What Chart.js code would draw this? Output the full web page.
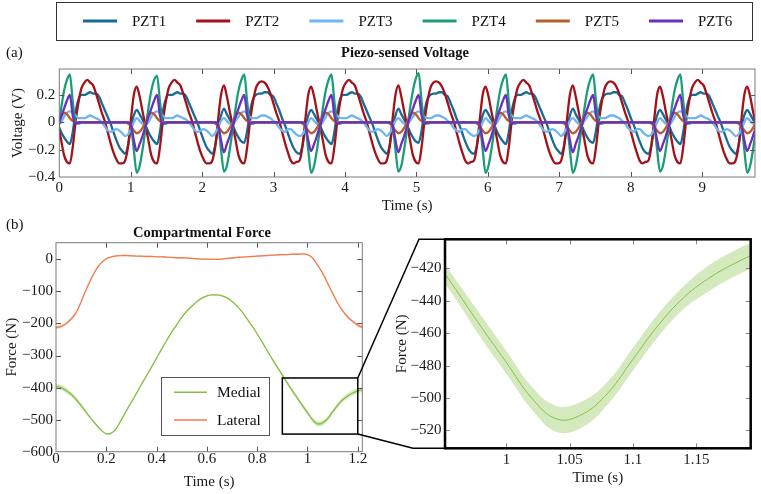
<!DOCTYPE html>
<html><head><meta charset="utf-8">
<script src="https://cdn.jsdelivr.net/npm/chart.js@4.4.1/dist/chart.umd.min.js"></script>
<style>
html,body{margin:0;padding:0;background:#fff;}
#wrap{position:relative;width:761px;height:494px;overflow:hidden;background:#fff;}
canvas{position:absolute;}
#cA{left:0;top:0;} #cB{left:0;top:200px;} #cC{left:370px;top:200px;} #cD{left:0;top:0;pointer-events:none;}
</style></head><body>
<div id="wrap">
<canvas id="cA" width="761" height="215"></canvas>
<canvas id="cB" width="380" height="294"></canvas>
<canvas id="cC" width="391" height="294"></canvas>
<canvas id="cD" width="761" height="494"></canvas>
</div>
<script>
// ---------------- data: panel (a) ----------------
const voltNames = ['PZT1','PZT2','PZT3','PZT4','PZT5','PZT6'];
const voltColors = ['#176b96','#a3121a','#70b5f2','#1b9e77','#b5602a','#6a2fbf'];
const voltStart = -0.0151;   // time of first sample (s)
const voltStep = 0.0407;     // sample spacing (s)
const voltXTicks = [0,1,2,3,4,5,6,7,8,9];
const voltYTicks = [-0.4,-0.2,0,0.2];

const pzt1 = [
 -.02,-.07,-.11,-.14,-.16,-.07,.08,.17,.2,.2,.21,.22,.21,.21,.19,.14,.09,.04,-.01,-.07,-.13,-.18,-.21,
 -.23,-.17,-.04,.05,.09,.06,.02,-.02,-.07,-.11,-.14,-.16,-.07,.08,.17,.2,.2,.21,.22,.21,.21,.19,.14,.09,.04,-.01,-.07,-.13,-.18,-.21,
 -.23,-.17,-.04,.05,.1,.06,.02,-.02,-.07,-.11,-.14,-.15,-.06,.08,.17,.2,.21,.21,.22,.22,.2,.19,.14,.09,.03,-.02,-.08,-.14,-.19,-.22,
 -.23,-.17,-.04,.05,.09,.06,.02,-.02,-.07,-.11,-.14,-.16,-.07,.08,.17,.2,.2,.21,.22,.21,.21,.19,.14,.09,.04,-.01,-.07,-.13,-.18,-.21,
 -.23,-.17,-.04,.05,.1,.06,.02,-.02,-.07,-.11,-.14,-.15,-.06,.08,.17,.2,.21,.21,.22,.22,.2,.19,.14,.09,.03,-.02,-.08,-.14,-.19,-.22,
 -.23,-.17,-.04,.05,.09,.06,.02,-.02,-.07,-.11,-.14,-.16,-.07,.08,.17,.2,.2,.21,.22,.21,.21,.19,.14,.09,.04,-.01,-.07,-.13,-.18,-.21,
 -.23,-.17,-.04,.05,.1,.06,.02,-.02,-.07,-.11,-.14,-.15,-.06,.08,.17,.2,.21,.21,.22,.22,.2,.19,.14,.09,.03,-.02,-.08,-.14,-.19,-.22,
 -.23,-.17,-.04,.05,.09,.06,.02,-.02,-.07,-.11,-.14,-.16,-.07,.08,.17,.2,.2,.21,.22,.21,.21,.19,.14,.09,.04,-.01,-.07,-.13,-.18,-.21,
 -.23,-.17,-.04,.05,.09,.06,.02,-.02
];
const pzt2 = [
 -.02,-.13,-.24,-.29,-.3,-.18,.01,.15,.25,.29,.31,.29,.27,.21,.14,.07,.01,-.07,-.15,-.22,-.27,-.3,-.3,
 -.28,-.18,.02,.2,.26,.19,.08,-.02,-.13,-.24,-.29,-.3,-.18,.01,.15,.25,.29,.31,.29,.27,.21,.14,.07,.01,-.07,-.15,-.22,-.27,-.3,-.3,
 -.28,-.18,.02,.2,.27,.19,.08,-.02,-.13,-.24,-.29,-.3,-.18,.01,.15,.25,.29,.3,.29,.26,.21,.14,.07,.01,-.07,-.15,-.22,-.28,-.3,-.29,
 -.28,-.18,.02,.2,.26,.19,.08,-.02,-.13,-.24,-.29,-.3,-.18,.01,.15,.25,.29,.31,.29,.27,.21,.14,.07,.01,-.07,-.15,-.22,-.27,-.3,-.3,
 -.28,-.18,.02,.2,.27,.19,.08,-.02,-.13,-.24,-.29,-.3,-.18,.01,.15,.25,.29,.3,.29,.26,.21,.14,.07,.01,-.07,-.15,-.22,-.28,-.3,-.29,
 -.28,-.18,.02,.2,.26,.19,.08,-.02,-.13,-.24,-.29,-.3,-.18,.01,.15,.25,.29,.31,.29,.27,.21,.14,.07,.01,-.07,-.15,-.22,-.27,-.3,-.3,
 -.28,-.18,.02,.2,.27,.19,.08,-.02,-.13,-.24,-.29,-.3,-.18,.01,.15,.25,.29,.3,.29,.26,.21,.14,.07,.01,-.07,-.15,-.22,-.28,-.3,-.29,
 -.28,-.18,.02,.2,.26,.19,.08,-.02,-.13,-.24,-.29,-.3,-.18,.01,.15,.25,.29,.31,.29,.27,.21,.14,.07,.01,-.07,-.15,-.22,-.27,-.3,-.3,
 -.28,-.18,.02,.2,.26,.19,.08,-.02
];
const pzt3 = [
 -.02,0,.04,.07,.08,.07,.05,.03,.03,.03,.04,.05,.04,.03,.02,0,-.03,-.06,-.07,-.06,-.05,-.06,-.08,
 -.1,-.09,-.05,0,.03,.01,-.01,-.02,0,.04,.07,.08,.07,.05,.03,.03,.03,.04,.05,.04,.03,.02,0,-.03,-.06,-.07,-.06,-.05,-.06,-.08,
 -.1,-.08,-.04,.01,.03,.01,-.01,-.02,.01,.04,.07,.08,.06,.04,.03,.03,.04,.05,.05,.04,.03,.01,-.01,-.04,-.06,-.07,-.05,-.05,-.07,-.09,
 -.1,-.09,-.05,0,.03,.01,-.01,-.02,0,.04,.07,.08,.07,.05,.03,.03,.03,.04,.05,.04,.03,.02,0,-.03,-.06,-.07,-.06,-.05,-.06,-.08,
 -.1,-.08,-.04,.01,.03,.01,-.01,-.02,.01,.04,.07,.08,.06,.04,.03,.03,.04,.05,.05,.04,.03,.01,-.01,-.04,-.06,-.07,-.05,-.05,-.07,-.09,
 -.1,-.09,-.05,0,.03,.01,-.01,-.02,0,.04,.07,.08,.07,.05,.03,.03,.03,.04,.05,.04,.03,.02,0,-.03,-.06,-.07,-.06,-.05,-.06,-.08,
 -.1,-.08,-.04,.01,.03,.01,-.01,-.02,.01,.04,.07,.08,.06,.04,.03,.03,.04,.05,.05,.04,.03,.01,-.01,-.04,-.06,-.07,-.05,-.05,-.07,-.09,
 -.1,-.09,-.05,0,.03,.01,-.01,-.02,0,.04,.07,.08,.07,.05,.03,.03,.03,.04,.05,.04,.03,.02,0,-.03,-.06,-.07,-.06,-.05,-.06,-.08,
 -.1,-.09,-.05,0,.03,.01,-.01,-.02
];
const pzt4 = [
 -.05,.1,.23,.31,.35,.15,0,-.01,0,0,0,0,0,0,0,0,0,0,0,0,0,0,0,
 0,0,-.02,-.2,-.37,-.32,-.2,-.05,.1,.23,.31,.34,.15,0,-.01,0,0,0,0,0,0,0,0,0,0,0,0,0,0,0,
 0,0,-.02,-.2,-.36,-.32,-.2,-.05,.1,.23,.31,.35,.15,0,-.01,0,0,0,0,0,0,0,0,0,0,0,0,0,0,0,
 0,0,-.02,-.2,-.37,-.32,-.2,-.05,.1,.23,.31,.35,.15,0,-.01,0,0,0,0,0,0,0,0,0,0,0,0,0,0,0,
 0,0,-.02,-.2,-.36,-.32,-.2,-.05,.1,.23,.32,.36,.15,0,-.01,0,0,0,0,0,0,0,0,0,0,0,0,0,0,0,
 0,0,-.02,-.2,-.37,-.32,-.2,-.05,.1,.23,.31,.35,.15,0,-.01,0,0,0,0,0,0,0,0,0,0,0,0,0,0,0,
 0,0,-.02,-.2,-.37,-.32,-.2,-.05,.1,.23,.31,.35,.15,0,-.01,0,0,0,0,0,0,0,0,0,0,0,0,0,0,0,
 0,0,-.02,-.2,-.36,-.32,-.2,-.05,.1,.23,.31,.35,.15,0,-.01,0,0,0,0,0,0,0,0,0,0,0,0,0,0,0,
 0,0,-.02,-.2,-.37,-.32,-.2,-.05
];
const pzt5 = [
 0,.04,.07,.06,.03,.01,0,0,0,0,0,0,0,0,0,0,0,0,0,0,0,0,0,
 0,-.01,-.03,-.06,-.08,-.07,-.04,0,.04,.07,.06,.03,.01,0,0,0,0,0,0,0,0,0,0,0,0,0,0,0,0,0,
 0,-.01,-.03,-.06,-.08,-.07,-.04,0,.04,.07,.06,.03,.01,0,0,0,0,0,0,0,0,0,0,0,0,0,0,0,0,0,
 0,-.01,-.03,-.06,-.08,-.07,-.04,0,.04,.07,.06,.03,.01,0,0,0,0,0,0,0,0,0,0,0,0,0,0,0,0,0,
 0,-.01,-.03,-.06,-.08,-.07,-.04,0,.04,.07,.06,.03,.01,0,0,0,0,0,0,0,0,0,0,0,0,0,0,0,0,0,
 0,-.01,-.03,-.06,-.08,-.07,-.04,0,.04,.07,.06,.03,.01,0,0,0,0,0,0,0,0,0,0,0,0,0,0,0,0,0,
 0,-.01,-.03,-.06,-.08,-.07,-.04,0,.04,.07,.06,.03,.01,0,0,0,0,0,0,0,0,0,0,0,0,0,0,0,0,0,
 0,-.01,-.03,-.06,-.08,-.07,-.04,0,.04,.07,.06,.03,.01,0,0,0,0,0,0,0,0,0,0,0,0,0,0,0,0,0,
 0,-.01,-.03,-.06,-.08,-.07,-.04,0
];
const pzt6 = [
 -.03,.04,.1,.16,.2,.05,-.01,0,0,0,0,0,0,0,0,0,0,0,0,0,0,0,0,
 0,0,-.02,-.13,-.21,-.16,-.1,-.03,.04,.1,.16,.2,.05,-.01,0,0,0,0,0,0,0,0,0,0,0,0,0,0,0,0,
 0,0,-.02,-.13,-.22,-.16,-.1,-.03,.04,.1,.16,.2,.05,-.01,0,0,0,0,0,0,0,0,0,0,0,0,0,0,0,0,
 0,0,-.02,-.13,-.21,-.16,-.1,-.03,.04,.1,.16,.2,.05,-.01,0,0,0,0,0,0,0,0,0,0,0,0,0,0,0,0,
 0,0,-.02,-.13,-.22,-.16,-.1,-.03,.04,.1,.16,.2,.05,-.01,0,0,0,0,0,0,0,0,0,0,0,0,0,0,0,0,
 0,0,-.02,-.13,-.21,-.16,-.1,-.03,.04,.1,.16,.2,.05,-.01,0,0,0,0,0,0,0,0,0,0,0,0,0,0,0,0,
 0,0,-.02,-.13,-.22,-.16,-.1,-.03,.04,.1,.16,.2,.05,-.01,0,0,0,0,0,0,0,0,0,0,0,0,0,0,0,0,
 0,0,-.02,-.13,-.21,-.16,-.1,-.03,.04,.1,.16,.2,.05,-.01,0,0,0,0,0,0,0,0,0,0,0,0,0,0,0,0,
 0,0,-.02,-.13,-.21,-.16,-.1,-.03
];

// ---------------- data: panel (b) ----------------
const forceStart = 0, forceStep = 0.02;
const medial = [
 -396,-400,-409,-421,-437,-456,-477,-497,-516,-533,
 -544,-542,-527,-500,-472,-445,-418,-390,-363,-336,
 -308,-280,-253,-227,-204,-181,-162,-146,-132,-121,
 -114,-111,-111,-114,-120,-131,-146,-164,-186,-208,
 -232,-258,-285,-311,-336,-361,-386,-410,-433,-456,
 -478,-500,-513,-510,-497,-476,-455,-438,-426,-417,
 -410,-405
];
const medialSpread = [
 8,8,8,7,7,6,5,4,3,3,
 2,2,2,2,2,2,2,2,2,2,
 2,2,2,2,2,2,2,2,2,2,
 2,2,2,2,2,2,2,2,2,2,
 2,2,3,3,4,5,5,6,6,7,
 7,7,8,8,7,7,7,7,8,8,
 8,8
];
const lateral = [
 -213,-209,-201,-186,-166,-132,-94,-60,-31,-11,
 2,8,11,12,12,11,10,10,9,9,
 8,8,7,6,5,5,4,3,2,1,
 1,0,0,1,3,4,6,7,8,9,
 10,11,12,13,14,15,15,16,16,17,
 15,5,-18,-43,-74,-106,-136,-161,-180,-194,
 -205,-212
];
const lateralSpread = [
 5,5,4,4,3,3,2,2,2,2,
 2,2,2,2,2,2,2,2,2,2,
 2,2,2,2,2,2,2,2,2,2,
 2,2,2,2,2,2,2,2,2,2,
 2,2,2,2,2,2,2,2,2,2,
 2,2,2,2,2,3,3,3,4,4,
 5,5
];
const forceNames = ['Medial','Lateral'];
const forceColors = ['#86bf45','#f47a4c'];
const forceBands = ['rgba(134,191,69,0.35)','rgba(244,122,76,0.35)'];
const forceXTicks = [0,0.2,0.4,0.6,0.8,1,1.2];
const forceYTicks = [-600,-500,-400,-300,-200,-100,0];
const zoomXTicks = [1,1.05,1.1,1.15];
const zoomYTicks = [-520,-500,-480,-460,-440,-420];
const zoomBoxX = [0.9,1.2];
const zoomBoxY = [-545,-370];

// ---------------- helpers ----------------
const FONT = "'Liberation Serif','Times New Roman',serif";
Chart.defaults.font.family = FONT;
Chart.defaults.font.size = 15;
Chart.defaults.color = '#1a1a1a';
Chart.defaults.animation = false;
const fmt = v => String(+v.toFixed(4)).replace('-', '\u2212');
const fixTicks = arr => s => { s.ticks = arr.map(v => ({value: v})); };

const frame = {
  id: 'frame',
  afterDatasetsDraw(chart, args, o) {
    const {ctx, chartArea: a, scales: {x, y}} = chart;
    ctx.save();
    ctx.lineWidth = 1; ctx.strokeStyle = o.tickColor;
    ctx.beginPath();
    for (const t of x.ticks) {
      const p = Math.round(x.getPixelForValue(t.value)) + 0.5;
      if (p < a.left + 1 || p > a.right - 1) continue;
      ctx.moveTo(p, a.bottom); ctx.lineTo(p, a.bottom - o.len);
      ctx.moveTo(p, a.top); ctx.lineTo(p, a.top + o.len);
    }
    for (const t of y.ticks) {
      const p = Math.round(y.getPixelForValue(t.value)) + 0.5;
      if (p < a.top + 1 || p > a.bottom - 1) continue;
      ctx.moveTo(a.left, p); ctx.lineTo(a.left + o.len, p);
      ctx.moveTo(a.right, p); ctx.lineTo(a.right - o.len, p);
    }
    ctx.stroke();
    ctx.lineWidth = o.width; ctx.strokeStyle = o.color;
    ctx.strokeRect(a.left, a.top, a.width, a.height);
    if (o.box) {
      const x0 = x.getPixelForValue(o.box.x[0]), x1 = x.getPixelForValue(o.box.x[1]);
      const y0 = y.getPixelForValue(o.box.y[0]), y1 = y.getPixelForValue(o.box.y[1]);
      ctx.lineWidth = 1.5; ctx.strokeStyle = '#000';
      ctx.strokeRect(x0, y1, x1 - x0, y0 - y1);
    }
    ctx.restore();
  }
};

const deco = {
  id: 'deco',
  afterDraw(chart, args, o) {
    const {ctx} = chart;
    ctx.save();
    ctx.fillStyle = '#111'; ctx.textBaseline = 'middle';
    if (o.title) {
      ctx.font = 'bold 14.5px ' + FONT; ctx.textAlign = 'center';
      ctx.fillText(o.title, o.titleX, o.titleY);
    }
    if (o.panel) {
      ctx.font = '15px ' + FONT; ctx.textAlign = 'left';
      ctx.fillText(o.panel, o.panelX, o.panelY);
    }
    if (o.legend) {
      const L = o.legend;
      ctx.strokeStyle = L.border; ctx.lineWidth = 1;
      ctx.strokeRect(L.box[0] + 0.5, L.box[1] + 0.5, L.box[2], L.box[3]);
      ctx.font = L.size + 'px ' + FONT; ctx.textAlign = 'left';
      L.items.forEach((it, i) => {
        const lx = L.x0 + i * L.dx, ly = L.y0 + i * L.dy;
        ctx.strokeStyle = it.color; ctx.lineWidth = L.lw;
        ctx.beginPath(); ctx.moveTo(lx, ly); ctx.lineTo(lx + L.len, ly); ctx.stroke();
        ctx.fillStyle = '#111';
        ctx.fillText(it.text, lx + L.textGap, ly + 1);
      });
    }
    ctx.restore();
  }
};

function axis(opts) {
  return {
    type: 'linear', min: opts.min, max: opts.max,
    afterBuildTicks: fixTicks(opts.ticks),
    afterFit: s => { if (opts.w !== undefined) s.width = opts.w; if (opts.h !== undefined) s.height = opts.h;
                     s.paddingLeft = 0; s.paddingRight = 0; s.paddingTop = 0; s.paddingBottom = 0; },
    grid: {display: false, drawTicks: false},
    border: {display: false},
    ticks: {padding: opts.pad, maxRotation: 0, autoSkip: false, callback: fmt, font: {size: 15}},
    title: {display: true, text: opts.title, font: {size: 15}, padding: opts.titlePad}
  };
}

// ---------------- chart (a) ----------------
const voltSeries = [pzt1, pzt2, pzt3, pzt4, pzt5, pzt6];
const voltTime = pzt1.map((_, i) => +(voltStart + i * voltStep).toFixed(4));
new Chart(document.getElementById('cA'), {
  type: 'line',
  data: {
    datasets: voltSeries.map((vals, k) => ({
      label: voltNames[k],
      data: vals.map((v, i) => ({x: voltTime[i], y: v})),
      borderColor: voltColors[k], borderWidth: 2.3, pointRadius: 0,
      cubicInterpolationMode: 'monotone', fill: false, order: 6 - k
    }))
  },
  options: {
    responsive: false, animation: false, events: [],
    layout: {padding: {left: 0, right: 6, top: 69, bottom: 0}},
    plugins: {
      legend: {display: false}, tooltip: {enabled: false},
      frame: {color: '#7a7a7a', width: 1, tickColor: '#555', len: 5},
      deco: {
        title: 'Piezo-sensed Voltage', titleX: 405, titleY: 53,
        panel: '(a)', panelX: 6, panelY: 53,
        legend: {
          box: [56, 2, 696, 38], border: '#333', size: 15, lw: 3, len: 34, textGap: 49,
          x0: 83, dx: 113.2, y0: 21, dy: 0,
          items: voltNames.map((n, k) => ({text: n, color: voltColors[k]}))
        }
      }
    },
    scales: {
      x: axis({min: 0, max: 9.74, ticks: voltXTicks, h: 38, pad: 2, title: 'Time (s)', titlePad: {top: 0, bottom: 0}}),
      y: axis({min: -0.4, max: 0.39, ticks: voltYTicks, w: 59.3, pad: 4, title: 'Voltage (V)', titlePad: {top: 9, bottom: 0}})
    }
  },
  plugins: [frame, deco]
});

// ---------------- chart (b) ----------------
const forceTime = medial.map((_, i) => +(forceStart + i * forceStep).toFixed(3));
function bandSets(vals, spread, k, lineW) {
  return [
    {data: vals.map((v, i) => ({x: forceTime[i], y: v + spread[i]})), borderWidth: 0, pointRadius: 0,
     backgroundColor: forceBands[k], fill: '+1', tension: 0.4},
    {data: vals.map((v, i) => ({x: forceTime[i], y: v - spread[i]})), borderWidth: 0, pointRadius: 0,
     fill: false, tension: 0.4},
    {label: forceNames[k], data: vals.map((v, i) => ({x: forceTime[i], y: v})), borderColor: forceColors[k],
     borderWidth: lineW, pointRadius: 0, fill: false, tension: 0.4}
  ];
}
const chartB = new Chart(document.getElementById('cB'), {
  type: 'line',
  data: {datasets: [...bandSets(medial, medialSpread, 0, 1.3), ...bandSets(lateral, lateralSpread, 1, 1.3)]},
  options: {
    responsive: false, animation: false, events: [],
    layout: {padding: {left: 0, right: 17.7, top: 42.7, bottom: 0}},
    plugins: {
      legend: {display: false}, tooltip: {enabled: false},
      frame: {color: '#7a7a7a', width: 1, tickColor: '#555', len: 5, box: {x: zoomBoxX, y: zoomBoxY}},
      deco: {
        title: 'Compartmental Force', titleX: 202, titleY: 33,
        panel: '(b)', panelX: 6, panelY: 25,
        legend: {
          box: [161, 177, 108, 58], border: '#555', size: 15.5, lw: 1.5, len: 33, textGap: 43,
          x0: 174, dx: 0, y0: 192.3, dy: 27.7,
          items: forceNames.map((n, k) => ({text: n, color: forceColors[k]}))
        }
      }
    },
    scales: {
      x: axis({min: 0, max: 1.218, ticks: forceXTicks, h: 42.3, pad: -2, title: 'Time (s)', titlePad: {top: 0, bottom: 3.3}}),
      y: axis({min: -600, max: 52, ticks: forceYTicks, w: 56, pad: 3, title: 'Force (N)', titlePad: {top: 3, bottom: 0}})
    }
  },
  plugins: [frame, deco]
});

// ---------------- zoomed chart ----------------
const chartC = new Chart(document.getElementById('cC'), {
  type: 'line',
  data: {datasets: bandSets(medial, medialSpread, 0, 1)},
  options: {
    responsive: false, animation: false, events: [],
    layout: {padding: {left: 0, right: 10.3, top: 39.3, bottom: 0}},
    plugins: {
      legend: {display: false}, tooltip: {enabled: false},
      frame: {color: '#000', width: 2.5, tickColor: '#888', len: 5}
    },
    scales: {
      x: axis({min: 0.9515, max: 1.193, ticks: zoomXTicks, h: 45.7, pad: 3, title: 'Time (s)', titlePad: {top: 0, bottom: 6.7}}),
      y: axis({min: -531, max: -402, ticks: zoomYTicks, w: 75, pad: 3.5, title: 'Force (N)', titlePad: {top: 22.7, bottom: 0}})
    }
  },
  plugins: [frame]
});

// ---------------- connector lines ----------------
(function () {
  const d = document.getElementById('cD').getContext('2d');
  const bx = chartB.scales.x, by = chartB.scales.y, ca = chartC.chartArea;
  const offB = [0, 200], offC = [370, 200];
  const xr = bx.getPixelForValue(zoomBoxX[1]) + offB[0];
  const yt = by.getPixelForValue(zoomBoxY[1]) + offB[1];
  const yb = by.getPixelForValue(zoomBoxY[0]) + offB[1];
  const cl = ca.left + offC[0], ct = ca.top + offC[1], cb = ca.bottom + offC[1];
  d.strokeStyle = '#000'; d.lineWidth = 1.5;
  d.beginPath();
  d.moveTo(xr, yt); d.lineTo(cl - 26, ct); d.lineTo(cl, ct);
  d.moveTo(xr, yb); d.lineTo(cl - 32, cb); d.lineTo(cl, cb);
  d.stroke();
})();
</script>
</body></html>
